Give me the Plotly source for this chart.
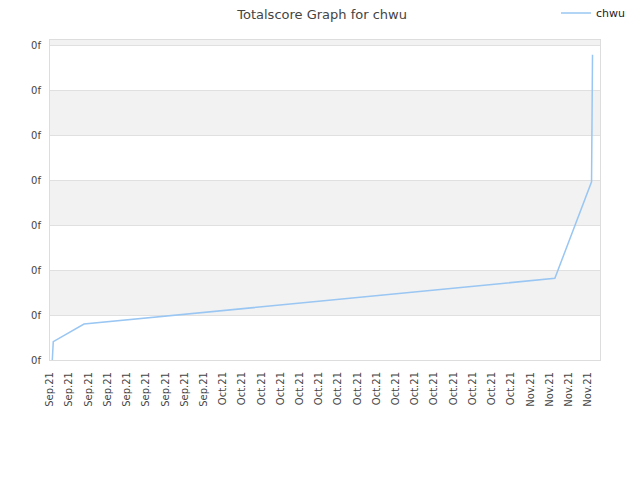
import plotly.graph_objects as go

# Data (x in label-index units, y in score units)
x_vals = [0.12, 0.17, 1.77, 26.28, 28.19, 28.21, 28.24]
y_vals = [0.0, 0.41, 0.80, 1.82, 3.97, 5.39, 6.80]

tick_labels = ["Sep.21"] * 9 + ["Oct.21"] * 16 + ["Nov.21"] * 4
tick_pos = list(range(len(tick_labels)))
y_ticks = [0, 1, 2, 3, 4, 5, 6, 7]
y_ticktext = ["0f"] * len(y_ticks)

x_range = [0, 28.63]
y_range = [0, 7.13]

fig = go.Figure()
fig.add_trace(go.Scatter(
    x=x_vals, y=y_vals, mode="lines", name="chwu",
    line=dict(color="#99c6f2", width=1.5),
))

shapes = []
for lo in [1, 3, 5, 7]:
    shapes.append(dict(type="rect", xref="paper", yref="y", x0=0, x1=1,
                       y0=lo, y1=min(lo + 1, y_range[1]),
                       fillcolor="#f2f2f2", line=dict(width=0), layer="below"))

fig.update_layout(
    width=632, height=472,
    margin=dict(l=42, r=40, t=32, b=120, autoexpand=False),
    paper_bgcolor="white", plot_bgcolor="white",
    font=dict(family="DejaVu Sans", size=10, color="#444"),
    title=dict(text="Totalscore Graph for chwu", x=0.497, xanchor="center",
               y=0.986, yanchor="middle", font=dict(size=13, color="#444")),
    showlegend=True,
    legend=dict(x=0.92, y=1.084, xanchor="left", yanchor="middle",
                orientation="h",
                font=dict(size=11, color="#222"), bgcolor="rgba(0,0,0,0)"),
    shapes=shapes,
    xaxis=dict(range=x_range, tickmode="array", tickvals=tick_pos,
               ticktext=tick_labels, tickangle=-90, showgrid=False,
               zeroline=False, showline=True, linecolor="#dddddd",
               linewidth=1, mirror=True, ticks="", fixedrange=True,
               automargin=False, ticklabelstandoff=7),
    yaxis=dict(range=y_range, tickmode="array", tickvals=y_ticks,
               ticktext=y_ticktext, showgrid=True, gridcolor="#e0e0e0",
               zeroline=False, showline=True, linecolor="#dddddd",
               linewidth=1, mirror=True, ticks="", fixedrange=True,
               automargin=False, ticklabelstandoff=6),
)

fig.write_html("out.html")
